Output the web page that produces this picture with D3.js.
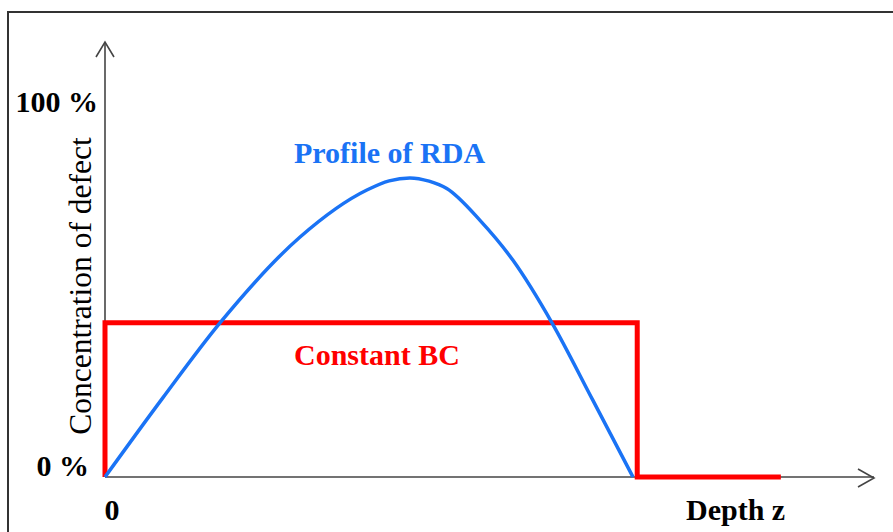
<!DOCTYPE html>
<html><head><meta charset="utf-8">
<script src="https://cdn.jsdelivr.net/npm/d3@7"></script>
<style>html,body{margin:0;padding:0;background:#fff;}svg{display:block;}</style>
</head><body>
<svg id="chart" width="893" height="532"></svg>
<script>
// Depth (0..100 = full axis length) and concentration (%)
const rdaDepth = [0, 7.5, 14.97, 25.4, 34.1, 37.0, 39.7, 42.2, 44.5, 48.8, 53.1, 58.2, 63.5, 68.75];
const rdaConc  = [0, 21.5, 42.0, 65.4, 78.2, 80.7, 81.5, 80.6, 78.6, 70.0, 59.1, 42.0, 21.0, 0];
const bcDepth = [0, 0, 69.3, 69.3, 88];
const bcConc  = [0, 42, 42, 0, 0];
const yTickValues = [0, 100];
const yTickLabels = ["0 %", "100 %"];
const xTickValues = [0];
const xTickLabels = ["0"];

const svg = d3.select("#chart");
const x0 = 105, y0 = 477;
const x = d3.scaleLinear().domain([0, 100]).range([x0, 873]);
const y = d3.scaleLinear().domain([0, 100]).range([y0, 110]);

// frame
svg.append("rect").attr("x", 8).attr("y", 12).attr("width", 900).attr("height", 540)
  .attr("fill", "none").attr("stroke", "#333").attr("stroke-width", 2);

const axisColor = "#444";
svg.append("line").attr("x1", x0).attr("y1", y0).attr("x2", 874).attr("y2", y0)
  .attr("stroke", axisColor).attr("stroke-width", 1.6);
svg.append("line").attr("x1", x0).attr("y1", y0).attr("x2", x0).attr("y2", 42)
  .attr("stroke", axisColor).attr("stroke-width", 1.6);
svg.append("path").attr("d", `M858,469 L874,478 L858,487`).attr("fill", "none")
  .attr("stroke", axisColor).attr("stroke-width", 1.6);
svg.append("path").attr("d", `M96,57 L105,42 L114,57`).attr("fill", "none")
  .attr("stroke", axisColor).attr("stroke-width", 1.6);

// red constant BC
const bc = bcDepth.map((d, i) => [d, bcConc[i]]);
svg.append("path").datum(bc)
  .attr("d", d3.line().x(d => x(d[0])).y(d => y(d[1])))
  .attr("fill", "none").attr("stroke", "#ff0000").attr("stroke-width", 5)
  .attr("stroke-linejoin", "miter");

// blue RDA profile
const rda = rdaDepth.map((d, i) => [d, rdaConc[i]]);
svg.append("path").datum(rda)
  .attr("d", d3.line().x(d => x(d[0])).y(d => y(d[1])).curve(d3.curveMonotoneX))
  .attr("fill", "none").attr("stroke", "#1a73f5").attr("stroke-width", 3.5);

const font = "Liberation Serif, Times New Roman, serif";
const fs = 30;
svg.selectAll(".ytl").data(yTickValues).enter().append("text")
  .attr("x", d => d === 0 ? 89 : 98).attr("y", d => d === 0 ? 476 : 112).attr("text-anchor", "end")
  .attr("font-family", font).attr("font-weight", "bold").attr("font-size", fs)
  .attr("fill", "#000").text((d, i) => yTickLabels[i]);
svg.selectAll(".xtl").data(xTickValues).enter().append("text")
  .attr("x", d => x(d) + 7).attr("y", 520).attr("text-anchor", "middle")
  .attr("font-family", font).attr("font-weight", "bold").attr("font-size", fs)
  .attr("fill", "#000").text((d, i) => xTickLabels[i]);

svg.append("text").attr("x", 686).attr("y", 520)
  .attr("font-family", font).attr("font-weight", "bold").attr("font-size", fs)
  .attr("fill", "#000").text("Depth z");

svg.append("text").attr("transform", "translate(91,286) rotate(-90)")
  .attr("text-anchor", "middle")
  .attr("font-family", font).attr("font-size", 31.5).attr("fill", "#000")
  .text("Concentration of defect");

svg.append("text").attr("x", 294).attr("y", 163)
  .attr("font-family", font).attr("font-weight", "bold").attr("font-size", fs)
  .attr("fill", "#1a73f5").text("Profile of RDA");

svg.append("text").attr("x", 294).attr("y", 365)
  .attr("font-family", font).attr("font-weight", "bold").attr("font-size", fs)
  .attr("fill", "#ff0000").text("Constant BC");
</script>
</body></html>
